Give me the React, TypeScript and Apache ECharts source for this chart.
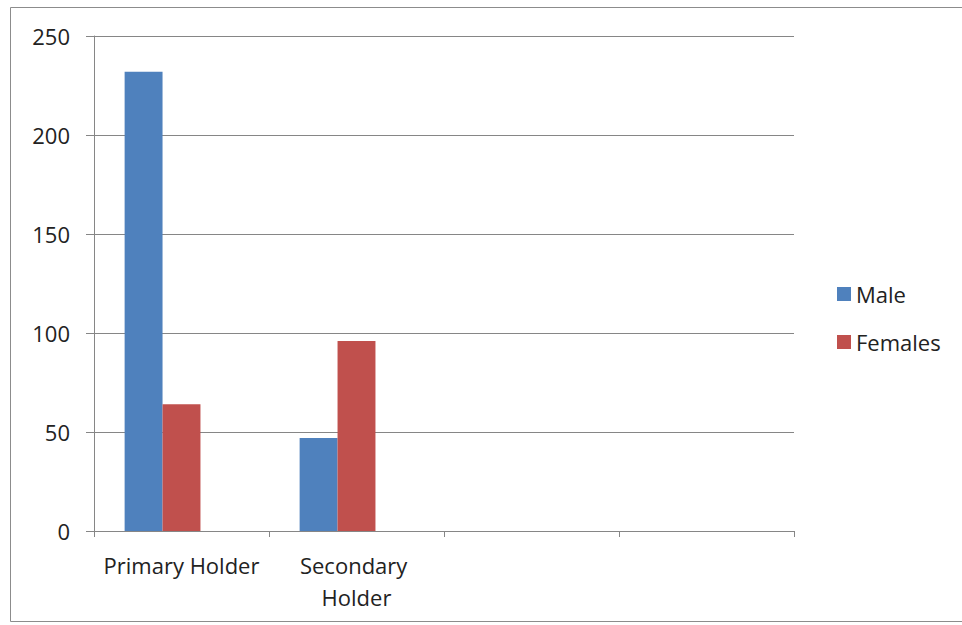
import React, { useEffect, useRef } from "react";
import * as echarts from "echarts";

const categories = ["Primary Holder", "Secondary Holder", "", ""];
const maleValues = [232, 47, "-", "-"];
const femaleValues = [64, 96, "-", "-"];
const emptyValues = ["-", "-", "-", "-"];
const yTicks = { min: 0, max: 250, interval: 50 };

const FONT = "Open Sans";
const FS = 22;

export default function App() {
  const ref = useRef<HTMLDivElement>(null);
  useEffect(() => {
    if (!ref.current) return;
    const chart = echarts.init(ref.current, undefined, { renderer: "svg" });
    chart.setOption({
      animation: false,
      backgroundColor: "#ffffff",
      textStyle: { fontFamily: FONT },
      graphic: [
        {
          type: "rect",
          shape: { x: 10.5, y: 7.5, width: 1000, height: 614 },
          style: { fill: "none", stroke: "#8c8c8c", lineWidth: 1 },
          silent: true,
        },
      ],
      grid: { left: 94, top: 36, width: 700, height: 495 },
      legend: {
        data: ["Male", "Females"],
        orient: "vertical",
        left: 837,
        top: 283,
        padding: 0,
        itemWidth: 14,
        itemHeight: 14,
        itemGap: 26,
        icon: "rect",
        textStyle: { fontFamily: FONT, fontSize: FS, color: "#222" },
      },
      xAxis: {
        type: "category",
        data: categories,
        axisLine: { lineStyle: { color: "#868686", width: 1 } },
        axisTick: { show: true, length: 6, lineStyle: { color: "#868686" } },
        axisLabel: {
          fontFamily: FONT,
          fontSize: FS,
          color: "#222",
          margin: 18,
          lineHeight: 32,
          width: 170,
          overflow: "break",
          interval: 0,
        },
      },
      yAxis: {
        type: "value",
        min: yTicks.min,
        max: yTicks.max,
        interval: yTicks.interval,
        axisLine: { show: true, lineStyle: { color: "#868686", width: 1 } },
        axisTick: { show: true, length: 8, lineStyle: { color: "#868686" } },
        axisLabel: { fontFamily: FONT, fontSize: FS, color: "#222", margin: 24 },
        splitLine: { lineStyle: { color: "#868686", width: 1 } },
      },
      series: [
        {
          name: "Male",
          type: "bar",
          data: maleValues,
          itemStyle: { color: "#4F81BD" },
          barGap: "0%",
          barCategoryGap: "35%",
        },
        {
          name: "Females",
          type: "bar",
          data: femaleValues,
          itemStyle: { color: "#C0504D" },
        },
        {
          name: "",
          type: "bar",
          data: emptyValues,
          itemStyle: { color: "#9BBB59" },
        },
      ],
    });
    return () => chart.dispose();
  }, []);
  return (
    <div
      ref={ref}
      style={{ position: "fixed", left: 0, top: 0, width: 962, height: 625 }}
    />
  );
}
